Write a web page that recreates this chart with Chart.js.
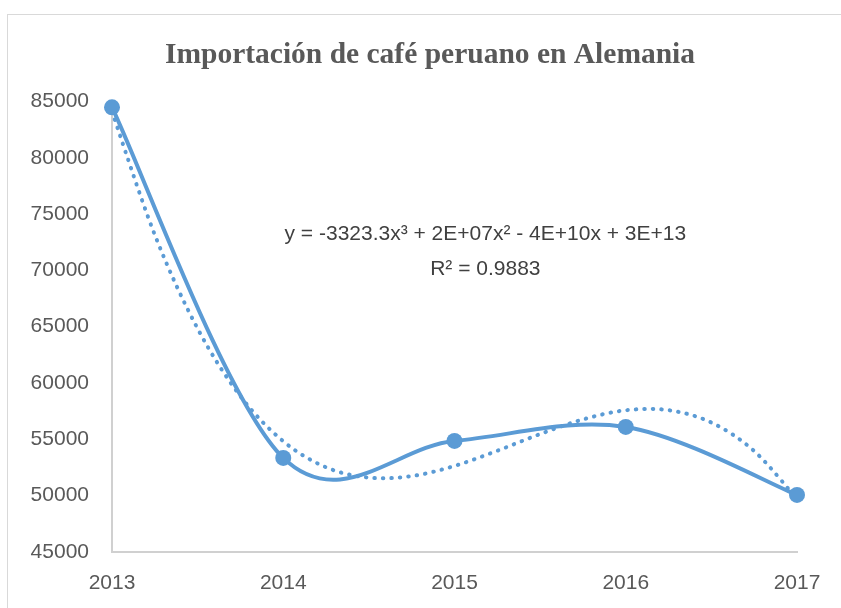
<!DOCTYPE html>
<html>
<head>
<meta charset="utf-8">
<script src="https://cdn.jsdelivr.net/npm/chart.js@4.4.0/dist/chart.umd.min.js"></script>
<style>
    html, body { margin: 0; padding: 0; background: #fff; overflow: hidden; }
    #frame { position: absolute; left: 7px; top: 14px; width: 900px; height: 700px; border: 1px solid #d9d9d9; }
    #wrap { position: absolute; left: 0; top: 0; width: 841px; height: 608px; }
</style>
</head>
<body>
<div id="frame"></div>
<div id="wrap"><canvas id="cafe" width="841" height="608"></canvas></div>
<script>
// importaciones anuales (toneladas aprox.)
const years = [2013, 2014, 2015, 2016, 2017];
const imports = [84470, 53350, 54860, 56100, 50070];

// tendencia polinómica (grado 3), cada trimestre
const trendYears = [2013, 2013.25, 2013.5, 2013.75, 2014, 2014.25, 2014.5, 2014.75, 2015,
                    2015.25, 2015.5, 2015.75, 2016, 2016.25, 2016.5, 2016.75, 2017];
const trendValues = [84100, 73150, 64830, 58830, 54830, 52520, 51600, 51740, 52640,
                     53990, 55470, 56770, 57580, 57590, 56490, 53960, 49700];

const yTicks = [45000, 50000, 55000, 60000, 65000, 70000, 75000, 80000, 85000];
const equation = ['y = -3323.3x\u00B3 + 2E+07x\u00B2 - 4E+10x + 3E+13', 'R\u00B2 = 0.9883'];

const blue = '#5B9BD5';
const grey = '#595959';

// suavizado tipo Excel: puntos de control a 1/6 de (siguiente - anterior)
function excelSmooth(pts) {
    for (let i = 0; i < pts.length; i++) {
        const p = pts[i];
        const prev = pts[i - 1] || p;
        const next = pts[i + 1] || p;
        const dx = (next.x - prev.x) / 6;
        const dy = (next.y - prev.y) / 6;
        p.cp1x = p.x - dx; p.cp1y = p.y - dy;
        p.cp2x = p.x + dx; p.cp2y = p.y + dy;
    }
}

const chartExtras = {
    id: 'chartExtras',
    afterLayout(chart) {
        // el título se centra sobre todo el marco, no solo sobre el área del gráfico
        if (chart.titleBlock) {
            chart.titleBlock.left = 7;
            chart.titleBlock.right = 853;
        }
    },
    beforeDatasetsDraw(chart) {
        chart.data.datasets.forEach((ds, i) => {
            const meta = chart.getDatasetMeta(i);
            meta.dataset.updateControlPoints(chart.chartArea, meta.iScale.axis);
            excelSmooth(meta.data);
        });
    },
    afterDatasetsDraw(chart) {
        const ctx = chart.ctx;
        const x = chart.scales.x.getPixelForValue(2015.18);
        ctx.save();
        ctx.fillStyle = '#404040';
        ctx.font = '21px "Liberation Sans", Arial, sans-serif';
        ctx.textAlign = 'center';
        ctx.textBaseline = 'middle';
        ctx.fillText(equation[0], x, chart.scales.y.getPixelForValue(73200));
        ctx.fillText(equation[1], x, chart.scales.y.getPixelForValue(70100));
        ctx.restore();
    }
};

const ctx = document.getElementById('cafe').getContext('2d');
new Chart(ctx, {
    type: 'line',
    data: {
        datasets: [{
            label: 'Importación',
            data: years.map((y, i) => ({ x: y, y: imports[i] })),
            borderColor: blue,
            backgroundColor: blue,
            borderWidth: 4,
            pointRadius: 8,
            pointHoverRadius: 8,
            pointBorderWidth: 0,
            tension: 0.4,
            clip: false,
            order: 1
        }, {
            label: 'Polinómica',
            data: trendYears.map((y, i) => ({ x: y, y: trendValues[i] })),
            borderColor: blue,
            borderWidth: 4,
            borderDash: [0.5, 8],
            borderCapStyle: 'round',
            pointRadius: 0,
            tension: 0.4,
            clip: false,
            order: 2
        }]
    },
    options: {
        responsive: false,
        animation: false,
        events: [],
        layout: { padding: { left: 0, right: 44, top: 0, bottom: 0 } },
        plugins: {
            legend: { display: false },
            tooltip: { enabled: false },
            title: {
                display: true,
                text: 'Importación de café peruano en Alemania',
                color: grey,
                font: { family: '"Liberation Serif", "Times New Roman", serif', size: 29.5, weight: 'bold', lineHeight: 1.2 },
                padding: { top: 38, bottom: 28 }
            }
        },
        scales: {
            x: {
                type: 'linear',
                min: 2013,
                max: 2017,
                afterBuildTicks: (scale) => { scale.ticks = years.map(v => ({ value: v })); },
                ticks: {
                    color: grey,
                    font: { family: '"Liberation Sans", Arial, sans-serif', size: 21 },
                    padding: 11,
                    callback: (v) => String(v)
                },
                grid: { display: false },
                border: { display: true, color: '#d0d0d0', width: 2 },
                afterFit: (scale) => { scale.height = 56; }
            },
            y: {
                min: 45000,
                max: 85000,
                afterBuildTicks: (scale) => { scale.ticks = yTicks.map(v => ({ value: v })); },
                ticks: {
                    color: grey,
                    font: { family: '"Liberation Sans", Arial, sans-serif', size: 21 },
                    padding: 15,
                    callback: (v) => String(v)
                },
                grid: { display: false },
                border: { display: true, color: '#d0d0d0', width: 2 },
                afterFit: (scale) => { scale.width = 112; }
            }
        }
    },
    plugins: [chartExtras]
});
</script>
</body>
</html>
